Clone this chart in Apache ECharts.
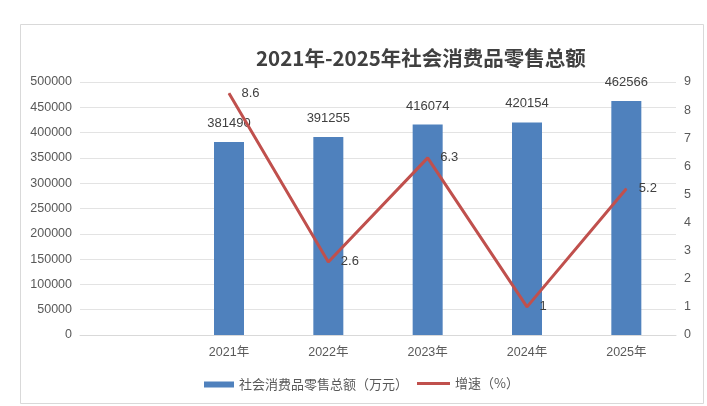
<!DOCTYPE html>
<html style="height: 100%">
<head>
<meta charset="utf-8">
<title>2021年-2025年社会消费品零售总额</title>
<script src="https://cdn.jsdelivr.net/npm/echarts@6/dist/echarts.min.js"></script>
</head>
<body style="height: 100%; margin: 0; background: #fff">
<div id="container" style="width: 707px; height: 406px"></div>
<script type="text/javascript">
var years = ['', '2021年', '2022年', '2023年', '2024年', '2025年'];
var retailTotal = ['-', 381490, 391255, 416074, 420154, 462566];
var growthRate = ['-', 8.6, 2.6, 6.3, 1, 5.2];
var barName = '社会消费品零售总额（万元）';
var lineName = '增速（%）';

var font = "'Liberation Sans', 'Noto Sans CJK SC', sans-serif";
var cjk = "'Noto Sans CJK SC', sans-serif";
var myChart = echarts.init(document.getElementById('container'));

var legendText = { color: '#595959', fontSize: 13, fontFamily: cjk };

var option = {
    backgroundColor: '#fff',
    animation: false,
    textStyle: { fontFamily: font },
    title: {
        text: '2021年-2025年社会消费品零售总额',
        left: 251,
        top: 43,
        textStyle: {
            fontSize: 20.5,
            fontWeight: 'bold',
            color: '#404040',
            fontFamily: cjk
        }
    },
    graphic: [{
        type: 'rect',
        silent: true,
        shape: { x: 20.5, y: 24.5, width: 683, height: 379 },
        style: { fill: 'none', stroke: '#d9d9d9', lineWidth: 1 }
    }],
    legend: [{
        bottom: 10,
        left: 199,
        itemWidth: 30,
        itemHeight: 6,
        textStyle: legendText,
        data: [{ name: barName, icon: 'rect' }]
    }, {
        bottom: 11,
        left: 412,
        itemWidth: 33,
        itemHeight: 3,
        itemGap: 4,
        textStyle: legendText,
        data: [{ name: lineName, icon: 'rect', itemStyle: { color: '#c0504d' } }]
    }],
    grid: { left: 80, right: 31, top: 82, bottom: 71 },
    xAxis: {
        type: 'category',
        data: years,
        axisTick: { show: false },
        axisLine: { lineStyle: { color: '#d9d9d9' } },
        axisLabel: { color: '#595959', fontSize: 12.5, margin: 11 }
    },
    yAxis: [{
        type: 'value',
        min: 0,
        max: 500000,
        interval: 50000,
        axisLine: { show: false },
        axisTick: { show: false },
        axisLabel: { color: '#595959', fontSize: 12.5, formatter: function (v) { return String(v); } },
        splitLine: { lineStyle: { color: '#e3e3e3' } }
    }, {
        type: 'value',
        min: 0,
        max: 9,
        interval: 1,
        axisLine: { show: false },
        axisTick: { show: false },
        axisLabel: { color: '#595959', fontSize: 12.5 },
        splitLine: { show: false }
    }],
    series: [{
        name: barName,
        type: 'bar',
        data: retailTotal,
        barWidth: 30,
        itemStyle: { color: '#4f81bd' },
        label: {
            show: true,
            position: 'top',
            distance: 12,
            color: '#404040',
            fontSize: 13
        }
    }, {
        name: lineName,
        type: 'line',
        yAxisIndex: 1,
        data: growthRate,
        symbol: 'circle',
        symbolSize: 1,
        showSymbol: true,
        lineStyle: { color: '#c0504d', width: 3 },
        itemStyle: { color: '#c0504d' },
        label: {
            show: true,
            position: 'right',
            distance: 12,
            color: '#404040',
            fontSize: 13
        }
    }]
};
myChart.setOption(option);
</script>
</body>
</html>
